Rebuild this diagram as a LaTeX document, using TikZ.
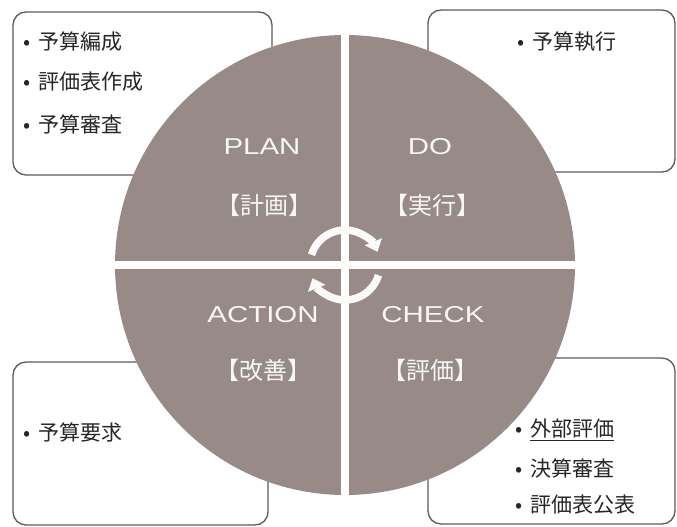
\documentclass[tikz,border=0pt]{standalone}
\usepackage{fontspec}
\usetikzlibrary{arrows.meta}
\newfontfamily\cjk{Noto Sans CJK JP}
\newfontfamily\latw[FakeStretch=1.28]{Liberation Sans}
\definecolor{disc}{RGB}{152,138,134}
\definecolor{boxline}{RGB}{95,90,90}
\newcommand{\bul}{\makebox[15pt][l]{•}}
\tikzset{
  panel/.style={draw=boxline, line width=1.3pt, rounded corners=13pt, fill=white},
  item/.style={anchor=west, inner sep=0pt, font=\cjk\fontsize{21}{24}\selectfont, text=black!85},
  phase/.style={inner sep=0pt, font=\latw\fontsize{23}{26}\selectfont, text=white!94!gray},
  phasejp/.style={inner sep=0pt, font=\cjk\fontsize{24}{27}\selectfont, text=white!94!gray},
  cyc/.style={draw=white!96!gray, line width=7.5pt, -{Triangle[width=18pt,length=11pt]}}
}
\begin{document}
\begin{tikzpicture}[x=1pt,y=-1pt]
\useasboundingbox (0,0) rectangle (677,527);
% boxes
\draw[panel] (13,12) rectangle (272,175);
\draw[panel] (428,10) rectangle (675,172);
\draw[panel] (13,362) rectangle (268,525);
\draw[panel] (428,358) rectangle (675,524);
% disc
\coordinate (c) at (345,265);
\fill[disc] (c) circle[radius=230pt];
\draw[white, line width=8pt] (345,30) -- (345,500);
\draw[white, line width=8pt] (110,265) -- (580,265);
% items
\node[item] (a1) at (23,42) {\bul 予算編成};
\node[item] (a2) at (23,82) {\bul 評価表作成};
\node[item] (a3) at (23,124) {\bul 予算審査};
\node[item] (b1) at (517,42) {\bul 予算執行};
\node[item] (d1) at (23,432) {\bul 予算要求};
\node[item] (e1) at (515,430) {\bul \underline{外部評価}};
\node[item] (e2) at (515,468) {\bul 決算審査};
\node[item] (e3) at (515,505) {\bul 評価表公表};
% phase labels
\node[phase] (plan) at (262,147) {PLAN};
\node[phasejp] (planj) at (264,205) {【計画】};
\node[phase] (do) at (430,147) {DO};
\node[phasejp] (doj) at (432,205) {【実行】};
\node[phase] (act) at (263,315) {ACTION};
\node[phasejp] (actj) at (263,370) {【改善】};
\node[phase] (chk) at (433,315) {CHECK};
\node[phasejp] (chkj) at (430,370) {【評価】};
% cycle arrows
\draw[cyc] ([shift={(163:35pt)}]c) arc[start angle=163, end angle=22, radius=35pt];
\draw[cyc] ([shift={(-17:35pt)}]c) arc[start angle=-17, end angle=-158, radius=35pt];
\end{tikzpicture}
\end{document}
